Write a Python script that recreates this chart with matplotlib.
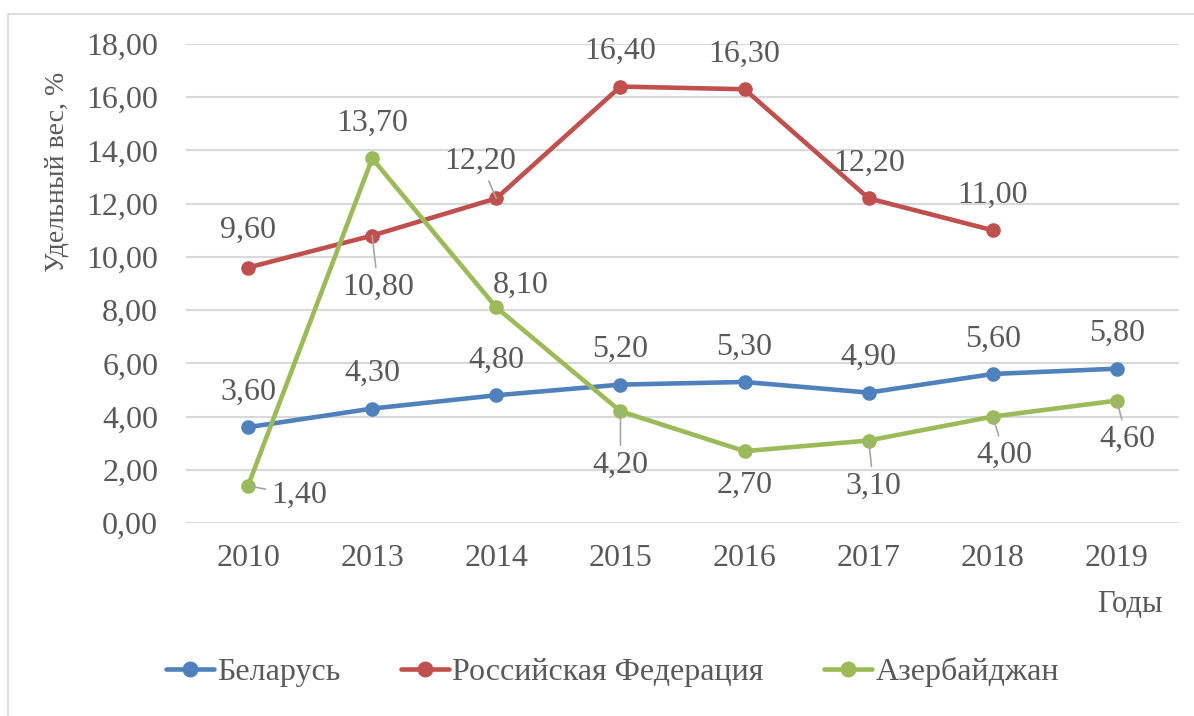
import matplotlib
matplotlib.use("Agg")
import matplotlib.pyplot as plt
from matplotlib.patches import Rectangle

years = ["2010", "2013", "2014", "2015", "2016", "2017", "2018", "2019"]
belarus = [3.6, 4.3, 4.8, 5.2, 5.3, 4.9, 5.6, 5.8]
russia = [9.6, 10.8, 12.2, 16.4, 16.3, 12.2, 11.0, None]
azerbaijan = [1.4, 13.7, 8.1, 4.2, 2.7, 3.1, 4.0, 4.6]
series_names = ["Беларусь", "Российская Федерация", "Азербайджан"]
y_ticks = [0, 2, 4, 6, 8, 10, 12, 14, 16, 18]

colors = ["#4f81bd", "#c0504d", "#9bbb59"]
text_color = "#595959"

# label offsets in pixels (dx, dy) and whether a leader line is drawn
label_offsets = [
    [(0, 35)] * 8,
    [(0, 37), (6, -52), (-16, 37), (0, 35), (0, 35), (0, 35), (0, 35), None],
    [(51, -10), (0, 35), (24, 22), (0, -54), (0, -34), (5, -46), (12, -39), (10, -39)],
]
leaders = [
    [False] * 8,
    [False, True, True, False, False, False, False, False],
    [True, False, False, True, False, True, True, True],
]

plt.rcParams["font.family"] = ["Liberation Serif", "DejaVu Serif"]

W, H = 1194, 716
fig = plt.figure(figsize=(W / 100, H / 100), dpi=100)
ax = fig.add_axes([186 / W, 1 - 523 / H, (1179 - 186) / W, (523 - 44) / H])

fig.patches.append(Rectangle((8 / W, -0.01), 1.5, 1 - 14 / H + 0.01,
                             transform=fig.transFigure, fill=False,
                             edgecolor="#d9d9d9", lw=1.2))

x = list(range(len(years)))
all_series = [belarus, russia, azerbaijan]
for i, vals in enumerate(all_series):
    xs = [xi for xi, v in zip(x, vals) if v is not None]
    ys = [v for v in vals if v is not None]
    ax.plot(xs, ys, color=colors[i], lw=3.3, marker="o", markersize=9.5,
            label=series_names[i], zorder=3, solid_capstyle="round")
    for j, v in enumerate(vals):
        if v is None:
            continue
        dx, dy = label_offsets[i][j]
        txt = f"{v:.2f}".replace(".", ",")
        kw = {}
        if leaders[i][j]:
            kw["arrowprops"] = dict(arrowstyle="-", color="#a6a6a6", lw=1.2,
                                    shrinkA=2, shrinkB=0)
        ax.annotate(txt, (j, v), xytext=(dx, dy), textcoords="offset pixels",
                    ha="center", va="center", fontsize=23, color=text_color,
                    zorder=5, **kw)

ax.set_xlim(-0.5, len(years) - 0.5)
ax.set_ylim(0, 18)
ax.set_xticks(x)
ax.set_xticklabels(years)
ax.set_yticks(y_ticks)
ax.set_yticklabels([f"{t:.2f}".replace(".", ",") for t in y_ticks])
ax.tick_params(axis="both", length=0, labelsize=23, labelcolor=text_color)
ax.tick_params(axis="y", pad=20)
ax.tick_params(axis="x", pad=15)
ax.grid(axis="y", color="#d9d9d9", lw=1.5)
ax.set_axisbelow(True)
for s in ax.spines.values():
    s.set_visible(False)

ax.set_ylabel("Удельный вес, %", fontsize=20, color=text_color)
ax.yaxis.set_label_coords(-0.117, 0.733)

fig.text(1163 / W, 1 - 604 / H, "Годы", ha="right", va="center",
         fontsize=22, color=text_color)

fig.legend(loc="center", bbox_to_anchor=(0.513, 1 - 672 / H), ncol=3,
           frameon=False, fontsize=23, labelcolor=text_color,
           handlelength=1.5, handletextpad=0.1, columnspacing=1.9,
           markerscale=1.1)

fig.savefig("out.png", dpi=100)
